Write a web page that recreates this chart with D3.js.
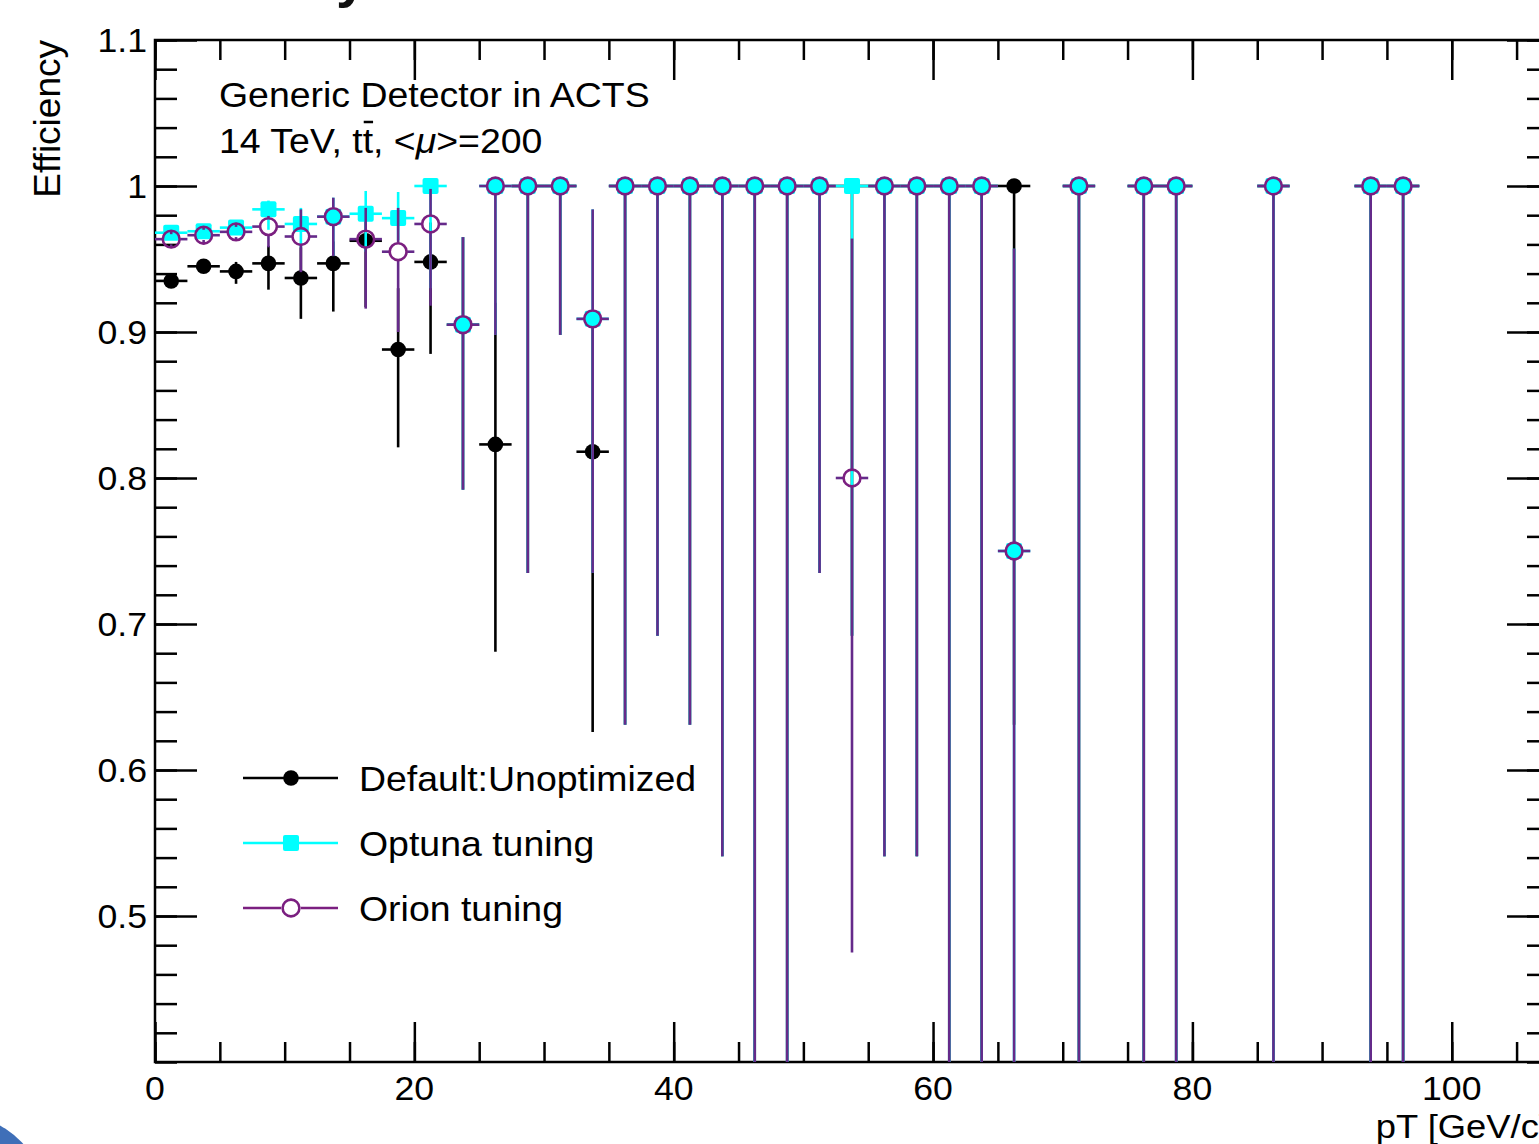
<!DOCTYPE html>
<html>
<head>
<meta charset="utf-8">
<script src="https://cdn.jsdelivr.net/npm/d3@7"></script>
<style>
body { margin: 0; background: #fff; }
svg { display: block; }
text { font-family: "Liberation Sans", Arial, Helvetica, sans-serif; fill: #000; }
</style>
</head>
<body>
<svg id="chart" width="1539" height="1144"></svg>
<script>
// bin centres in pT [GeV/c], bins are 2.5 wide
var binWidth = 2.5
var ptBins = [1.25, 3.75, 6.25, 8.75, 11.25, 13.75, 16.25, 18.75, 21.25, 23.75, 26.25, 28.75, 31.25, 33.75,
    36.25, 38.75, 41.25, 43.75, 46.25, 48.75, 51.25, 53.75, 56.25, 58.75, 61.25, 63.75, 66.25,
    71.25, 76.25, 78.75, 86.25, 93.75, 96.25]

// Default:Unoptimized
var defaultEff = [0.935, 0.945, 0.9415, 0.947, 0.937, 0.947, 0.9625, 0.888, 0.948, 0.905, 0.823, 1, 1, 0.818,
    1, 1, 1, 1, 1, 1, 1, 1, 1, 1, 1, 1, 1, 1, 1, 1, 1, 1, 1]
var defaultLow = [0.931, 0.941, 0.933, 0.929, 0.909, 0.914, 0.917, 0.821, 0.885, 0.792, 0.681, 0.735, 0.898, 0.626,
    0.631, 0.692, 0.631, 0.541, 0.16, 0.16, 0.735, 0.692, 0.541, 0.541, 0.16, 0.16, 0.631, 0.16, 0.16, 0.16, 0.16, 0.16, 0.16]
var defaultHigh = [0.939, 0.949, 0.948, 0.959, 0.958, 0.962, 0.985, 0.930, 0.975, 0.965, 0.920, 1, 1, 0.905,
    1, 1, 1, 1, 1, 1, 1, 1, 1, 1, 1, 1, 1, 1, 1, 1, 1, 1, 1]

// Optuna tuning
var optunaEff = [0.968, 0.969, 0.9715, 0.984, 0.974, 0.979, 0.981, 0.978, 1, 0.905, 1, 1, 1, 0.909,
    1, 1, 1, 1, 1, 1, 1, 1, 1, 1, 1, 1, 0.75, 1, 1, 1, 1, 1, 1]
var optunaLow = [0.964, 0.965, 0.967, 0.970, 0.958, 0.952, 0.955, 0.963, 0.93, 0.792, 0.898, 0.735, 0.898, 0.735,
    0.631, 0.692, 0.631, 0.541, 0.16, 0.16, 0.735, 0.692, 0.541, 0.541, 0.16, 0.16, 0.36, 0.16, 0.16, 0.16, 0.16, 0.16, 0.16]
var optunaHigh = [0.972, 0.973, 0.975, 0.990, 0.985, 0.992, 0.9966, 0.9959, 1, 0.965, 1, 1, 1, 0.984,
    1, 1, 1, 1, 1, 1, 1, 1, 1, 1, 1, 1, 0.957, 1, 1, 1, 1, 1, 1]

// Orion tuning
var orionEff = [0.9636, 0.9663, 0.9686, 0.9722, 0.9654, 0.979, 0.9636, 0.955, 0.974, 0.905, 1, 1, 1, 0.909,
    1, 1, 1, 1, 1, 1, 1, 0.8, 1, 1, 1, 1, 0.75, 1, 1, 1, 1, 1, 1]
var orionLow = [0.960, 0.963, 0.965, 0.958, 0.941, 0.952, 0.916, 0.900, 0.918, 0.792, 0.898, 0.735, 0.898, 0.735,
    0.631, 0.692, 0.631, 0.541, 0.16, 0.16, 0.735, 0.475, 0.541, 0.541, 0.16, 0.16, 0.36, 0.16, 0.16, 0.16, 0.16, 0.16, 0.16]
var orionHigh = [0.967, 0.970, 0.972, 0.9795, 0.984, 0.992, 0.985, 0.985, 0.998, 0.965, 1, 1, 1, 0.984,
    1, 1, 1, 1, 1, 1, 1, 0.964, 1, 1, 1, 1, 0.957, 1, 1, 1, 1, 1, 1]

var legendNames = ["Default:Unoptimized", "Optuna tuning", "Orion tuning"]
var xMajorTicks = [0, 20, 40, 60, 80, 100]
var yMajorTicks = [0.5, 0.6, 0.7, 0.8, 0.9, 1.0, 1.1]

var svg = d3.select("#chart")
// frame edges (right edge falls just outside the picture)
var frameLeft = 155, frameRight = 1549, frameTop = 40, frameBottom = 1062

var xScale = d3.scaleLinear().domain([0, 107.5]).range([frameLeft, frameRight])
var yScale = d3.scaleLinear().domain([0.4, 1.1]).range([frameBottom, frameTop])

// bits of the slide around the plot
svg.append("circle").attr("cx", -50).attr("cy", 1212).attr("r", 100).attr("fill", "#3f6fb8")
svg.append("text").attr("x", 336).attr("y", -4).attr("font-size", 56).attr("font-weight", "bold")
    .style("fill", "#111").text("y")

svg.append("clipPath").attr("id", "frame-clip")
    .append("rect").attr("x", frameLeft).attr("y", frameTop)
    .attr("width", frameRight - frameLeft).attr("height", frameBottom - frameTop)

// ticks on all four sides, pointing inwards
function range(a, b, step) {
    var out = []
    for (var v = a; v <= b + 1e-9; v += step) out.push(+v.toFixed(4))
    return out
}
var xMinor = range(0, 105, 5)
var yMinor = range(0.4, 1.1, 0.02)

function styleAxis(g) {
    g.select(".domain").remove()
    g.selectAll(".tick text").remove()
    g.selectAll(".tick line").attr("stroke", "#000").attr("stroke-width", 2.5)
}

function tickRow(axisFn, pos, values, len) {
    var horizontal = (axisFn == d3.axisBottom || axisFn == d3.axisTop)
    var scale = horizontal ? xScale : yScale
    svg.append("g")
        .attr("transform", horizontal ? `translate(0,${pos})` : `translate(${pos},0)`)
        .call(axisFn(scale).tickValues(values).tickSize(-len)).call(styleAxis)
}
tickRow(d3.axisBottom, frameBottom, xMinor, 20)
tickRow(d3.axisBottom, frameBottom, xMajorTicks, 40)
tickRow(d3.axisTop, frameTop, xMinor, 20)
tickRow(d3.axisTop, frameTop, xMajorTicks, 40)
tickRow(d3.axisLeft, frameLeft, yMinor, 22)
tickRow(d3.axisLeft, frameLeft, yMajorTicks, 42)
tickRow(d3.axisRight, frameRight, yMinor, 22)
tickRow(d3.axisRight, frameRight, yMajorTicks, 42)

svg.append("rect").attr("x", frameLeft).attr("y", frameTop)
    .attr("width", frameRight - frameLeft).attr("height", frameBottom - frameTop)
    .attr("fill", "none").attr("stroke", "#000").attr("stroke-width", 2.5)

// tick labels (ROOT style, slightly wide)
svg.append("g").selectAll("g").data(yMajorTicks).enter().append("g")
    .attr("transform", d => `translate(147,${yScale(d) + 12}) scale(1.08,1)`)
    .append("text").attr("text-anchor", "end").attr("font-size", 33)
    .text(d => String(+d.toFixed(1)))
svg.append("g").selectAll("g").data(xMajorTicks).enter().append("g")
    .attr("transform", d => `translate(${xScale(d)},1100) scale(1.08,1)`)
    .append("text").attr("text-anchor", "middle").attr("font-size", 33)
    .text(d => d)

svg.append("g").attr("transform", `translate(${frameRight},1138) scale(1.07,1)`)
    .append("text").attr("text-anchor", "end").attr("font-size", 34).text("pT [GeV/c]")
svg.append("text").attr("transform", "translate(60,40) rotate(-90)")
    .attr("text-anchor", "end").attr("font-size", 37).text("Efficiency")

// data
var plot = svg.append("g").attr("clip-path", "url(#frame-clip)")

function drawSeries(vals, lows, highs, color, lineColor, marker) {
    var g = plot.append("g")
    var gap = marker == "circle" ? 9 : 0
    var half = binWidth / 2
    ptBins.forEach(function (pt, i) {
        var cx = xScale(pt), cy = yScale(vals[i])
        var segs = []
        if (highs[i] > vals[i]) segs.push([cx, yScale(highs[i]), cx, cy - gap])
        if (lows[i] < vals[i]) segs.push([cx, cy + gap, cx, yScale(lows[i])])
        segs.push([xScale(pt - half), cy, cx - gap, cy])
        segs.push([cx + gap, cy, xScale(pt + half), cy])
        segs.forEach(function (s) {
            g.append("line").attr("x1", s[0]).attr("y1", s[1]).attr("x2", s[2]).attr("y2", s[3])
                .attr("stroke", lineColor).attr("stroke-width", 2.6)
        })
    })
    drawMarkers(g, ptBins.map((pt, i) => [xScale(pt), yScale(vals[i])]), color, marker)
}

function drawMarkers(g, pts, color, marker) {
    if (marker == "dot") {
        g.selectAll(".m").data(pts).enter().append("circle").attr("class", "m")
            .attr("cx", d => d[0]).attr("cy", d => d[1]).attr("r", 7.8).attr("fill", color)
    } else if (marker == "square") {
        g.selectAll(".m").data(pts).enter().append("rect").attr("class", "m")
            .attr("x", d => d[0] - 8).attr("y", d => d[1] - 8).attr("width", 16).attr("height", 16)
            .attr("rx", 2).attr("fill", color)
    } else {
        g.selectAll(".m").data(pts).enter().append("circle").attr("class", "m")
            .attr("cx", d => d[0]).attr("cy", d => d[1]).attr("r", 8.4)
            .attr("fill", "none").attr("stroke", color).attr("stroke-width", 2.6)
    }
}

var purple = "#7b1f80"
drawSeries(defaultEff, defaultLow, defaultHigh, "#000", "#000", "dot")
drawSeries(optunaEff, optunaLow, optunaHigh, "#00ffff", "#00ffff", "square")
drawSeries(orionEff, orionLow, orionHigh, purple, "#652a8a", "circle")

// header text
var info = svg.append("g")
info.append("g").attr("transform", "translate(219,107) scale(1.07,1)")
    .append("text").attr("font-size", 35).text("Generic Detector in ACTS")
var line2 = info.append("g").attr("transform", "translate(219,153) scale(1.07,1)")
var t2 = line2.append("text").attr("font-size", 35)
t2.append("tspan").text("14 TeV, t")
t2.append("tspan").text("t")
t2.append("tspan").text(", <")
t2.append("tspan").style("font-style", "italic").text("μ")
t2.append("tspan").text(">=200")
var barStart = t2.node().getStartPositionOfChar(9).x
var barEnd = t2.node().getEndPositionOfChar(9).x
line2.append("line").attr("x1", barStart + 1).attr("x2", barEnd).attr("y1", -31).attr("y2", -31)
    .attr("stroke", "#000").attr("stroke-width", 2.5)

// legend
var legendColors = ["#000", "#00ffff", purple]
var legendMarkers = ["dot", "square", "circle"]
var legend = svg.append("g")
legendNames.forEach(function (name, i) {
    var ly = 778 + i * 65
    legend.append("line").attr("x1", 243).attr("x2", 338).attr("y1", ly).attr("y2", ly)
        .attr("stroke", legendColors[i]).attr("stroke-width", 2.6)
    if (legendMarkers[i] == "circle") {
        legend.append("circle").attr("cx", 291).attr("cy", ly).attr("r", 10).attr("fill", "#fff")
    }
    drawMarkers(legend.append("g"), [[291, ly]], legendColors[i], legendMarkers[i])
    legend.append("g").attr("transform", `translate(359,${ly + 13}) scale(1.07,1)`)
        .append("text").attr("font-size", 35).text(name)
})
</script>
</body>
</html>
